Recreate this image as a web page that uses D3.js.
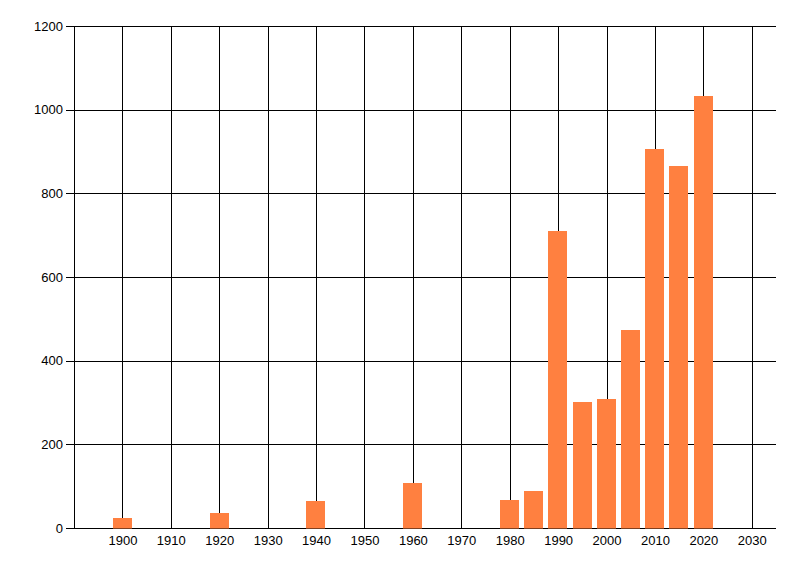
<!DOCTYPE html>
<html>
<head>
<meta charset="utf-8">
<script src="https://cdn.jsdelivr.net/npm/d3@7"></script>
<style>
  body { margin: 0; background: #fff; }
  text { font-family: "Liberation Sans Narrow", "Liberation Sans", Arial, sans-serif; font-size: 13px; fill: #000; }
</style>
</head>
<body>
<div class="chart"></div>
<script>
// data
const years = [1900, 1920, 1940, 1960, 1980, 1985, 1990, 1995, 2000, 2005, 2010, 2015, 2020];
const counts = [25, 35, 64, 107, 68, 88, 710, 302, 309, 474, 906, 866, 1033];
const xTicks = [1900, 1910, 1920, 1930, 1940, 1950, 1960, 1970, 1980, 1990, 2000, 2010, 2020, 2030];
const yTicks = [0, 200, 400, 600, 800, 1000, 1200];

const W = 800, H = 576;
// plot area edges (window.top is taken, so prefix them)
const plotL = 74, plotR = 776, plotT = 26, plotB = 528;

const svg = d3.select(".chart")
  .append("svg")
    .attr("width", W)
    .attr("height", H)
    .style("display", "block");

// scales
const x = d3.scaleLinear().domain([1890, 2035]).range([plotL, plotR]);
const y = d3.scaleLinear().domain([0, 1200]).range([plotB, plotT]);
const barW = x(1894) - x(1890); // bars are ~4 years wide

const px = v => Math.round(v) + 0.5; // keep 1px lines crisp

// vertical grid
svg.append("g")
  .selectAll("line")
  .data(xTicks)
  .join("line")
    .attr("x1", d => px(x(d))).attr("x2", d => px(x(d)))
    .attr("y1", plotT).attr("y2", plotB)
    .attr("stroke", "#000");

// horizontal grid (with the little tick left of the axis)
svg.append("g")
  .selectAll("line")
  .data(yTicks)
  .join("line")
    .attr("x1", plotL - 8).attr("x2", plotR)
    .attr("y1", d => px(y(d))).attr("y2", d => px(y(d)))
    .attr("stroke", "#000");

// y axis line
svg.append("line")
  .attr("x1", px(plotL)).attr("x2", px(plotL))
  .attr("y1", plotT).attr("y2", px(plotB))
  .attr("stroke", "#000");

// bars
svg.append("g")
  .selectAll("rect")
  .data(years.map((yr, i) => ({ yr, n: counts[i] })))
  .join("rect")
    .attr("x", d => Math.round(x(d.yr) - barW / 2))
    .attr("width", Math.round(barW))
    .attr("y", d => Math.round(y(d.n)))
    .attr("height", d => Math.round(y(0)) + 0.5 - Math.round(y(d.n)))
    .attr("fill", "#ff8040");

// y labels
svg.append("g")
  .selectAll("text")
  .data(yTicks)
  .join("text")
    .text(d => d)
    .attr("x", plotL - 11)
    .attr("y", d => y(d))
    .attr("dy", "0.35em")
    .attr("text-anchor", "end");

// x labels
svg.append("g")
  .selectAll("text")
  .data(xTicks)
  .join("text")
    .text(d => d)
    .attr("x", d => x(d) + 0.5)
    .attr("y", 545)
    .attr("text-anchor", "middle");
</script>
</body>
</html>
